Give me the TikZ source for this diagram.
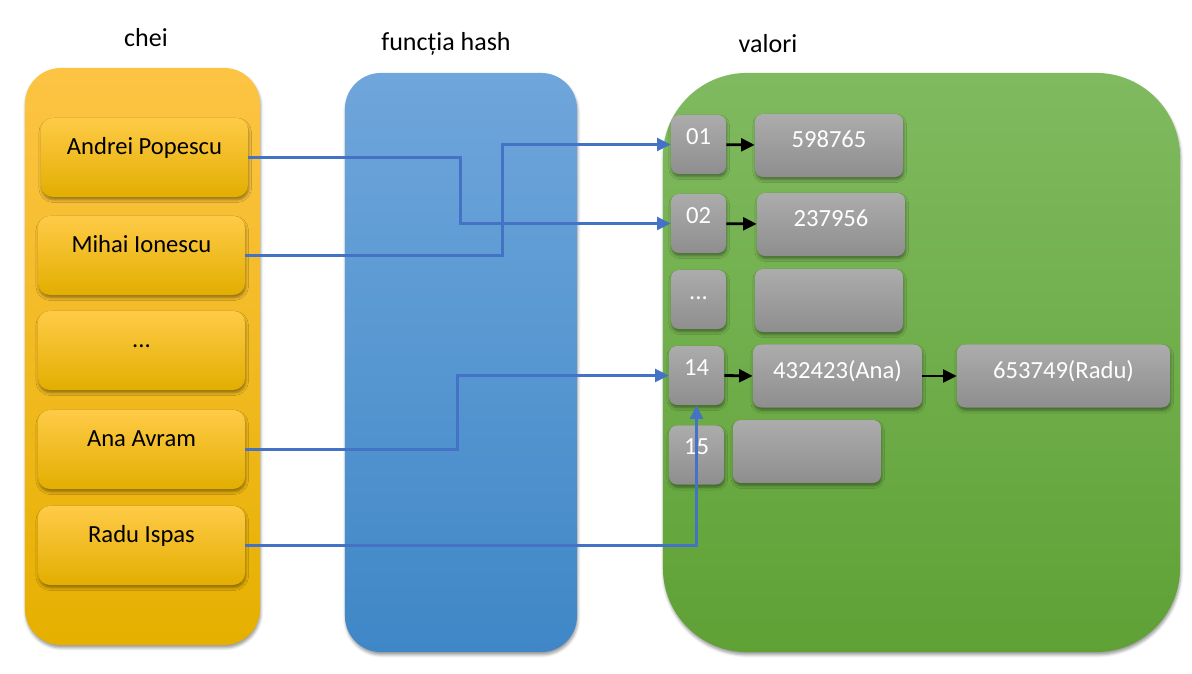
\documentclass[tikz,border=0pt]{standalone}
\usepackage{fontspec}
\setmainfont{Carlito}
\usetikzlibrary{arrows.meta,shadows.blur}

\definecolor{keytop}{HTML}{FFCB47}
\definecolor{keymid}{HTML}{FFC000}
\definecolor{keybot}{HTML}{E2AE00}
\definecolor{chtop}{HTML}{FDC444}
\definecolor{chbot}{HTML}{E6B000}
\definecolor{hashtop}{HTML}{6FA6DB}
\definecolor{hashbot}{HTML}{3F87C7}
\definecolor{valtop}{HTML}{80BA60}
\definecolor{valbot}{HTML}{5FA135}
\definecolor{celltop}{HTML}{ACACAC}
\definecolor{cellbot}{HTML}{8E8E8E}
\definecolor{linkblue}{HTML}{4472C4}

\begin{document}
\begin{tikzpicture}[x=0.025cm,y=-0.025cm]
\tikzset{
  softshadow/.style={blur shadow={shadow xshift=0.5pt,shadow yshift=-2pt,shadow blur radius=2pt,shadow opacity=40}},
  panel/.style={rounded corners=#1,softshadow,inner sep=0pt},
  title/.style={font=\fontsize{18.5}{21}\selectfont},
  keybox/.style={rounded corners=0.3cm,softshadow,top color=keytop,middle color=keymid,bottom color=keybot,
    minimum width=5.175cm,minimum height=1.975cm,inner sep=0pt,text height=0.4cm,text depth=0.525cm,
    font=\fontsize{17.5}{20}\selectfont},
  cellbox/.style={rounded corners=0.2cm,softshadow,top color=celltop,bottom color=cellbot,text=white,
    inner sep=0pt,font=\fontsize{17.5}{20}\selectfont},
  idxbox/.style={cellbox,minimum width=1.375cm,minimum height=1.475cm,text height=0.375cm,text depth=0.375cm},
  valbox/.style={cellbox,minimum width=#1,minimum height=1.575cm,text height=0.375cm,text depth=0.25cm},
  hashlink/.style={draw=linkblue,line width=2pt,-{Triangle[length=3.4mm,width=3.2mm]}},
  chainlink/.style={line width=2pt,-{Triangle[length=3.4mm,width=3.2mm]}}
}
\useasboundingbox (0,0) rectangle (1192,674);

% titles
\node[title] (t_chei) at (146,38) {chei};
\node[title] (t_hash) at (446,44) {funcția hash};
\node[title] (t_val) at (768,44) {valori};

% panels
\node[panel=0.9cm,top color=chtop,bottom color=chbot,minimum width=5.875cm,minimum height=14.425cm] (p_chei) at (142.5,356.5) {};
\node[panel=0.9cm,top color=hashtop,bottom color=hashbot,minimum width=5.8cm,minimum height=14.475cm] (p_hash) at (461,362.5) {};
\node[panel=2.1cm,top color=valtop,bottom color=valbot,minimum width=12.925cm,minimum height=14.475cm] (p_val) at (921.5,362.5) {};

% keys
\node[keybox] (n_andrei) at (144.5,157.5) {Andrei Popescu};
\node[keybox] (n_mihai) at (141.5,255.5) {Mihai Ionescu};
\node[keybox] (n_kdots) at (141.5,350.5) {...};
\node[keybox] (n_ana) at (141.5,449.5) {Ana Avram};
\node[keybox] (n_radu) at (141.5,545.5) {Radu Ispas};

% buckets
\node[idxbox] (n_i01) at (698.5,144.5) {01};
\node[idxbox] (n_i02) at (698.5,223.5) {02};
\node[idxbox] (n_idots) at (698.5,299.5) {...};
\node[idxbox] (n_i14) at (696.5,375.5) {14};
\node[idxbox] (n_i15) at (696.5,455) {15};

% values
\node[valbox=3.7cm] (n_v01) at (829,145.5) {598765};
\node[valbox=3.7cm] (n_v02) at (831,224.5) {237956};
\node[valbox=3.7cm] (n_vdots) at (829,300.5) {};
\node[valbox=4.225cm] (n_v14a) at (837.5,376) {432423(Ana)};
\node[valbox=5.325cm] (n_v14b) at (1063.5,376) {653749(Radu)};
\node[valbox=3.7cm] (n_v15) at (807,451.5) {};

\draw[chainlink] (n_i01) -- (n_v01);
\draw[chainlink] (n_i02) -- (n_v02);
\draw[chainlink] (n_i14.east) -- (n_v14a.west);
\draw[chainlink] (n_v14a) -- (n_v14b);

% hashing
\draw[hashlink] (n_andrei.east) -- ++(212,0) |- (n_i02.west);
\draw[hashlink] (n_mihai.east) -- ++(257,0) |- (n_i01.west);
\draw[hashlink] (n_ana.east) -- ++(212,0) |- (n_i14.west);
\draw[hashlink] (n_radu.east) -| (n_i14.south);
\end{tikzpicture}
\end{document}
